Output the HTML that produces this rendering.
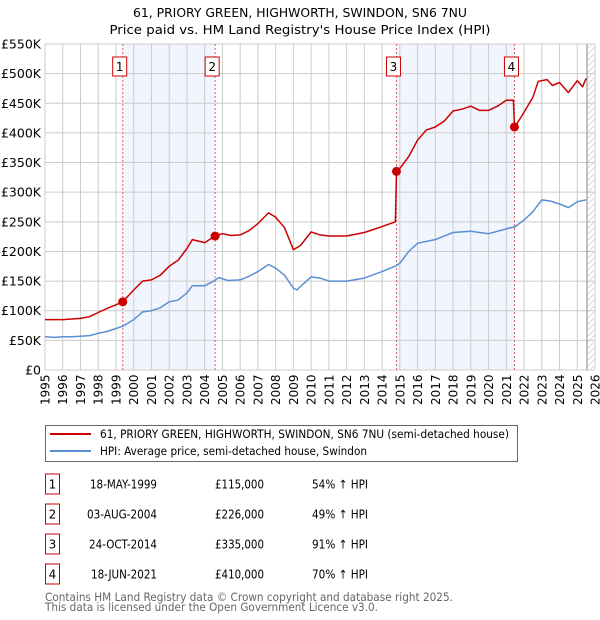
<!DOCTYPE html>
<html><head><meta charset="utf-8">
<style>
body{margin:0;background:#fff;font-family:"Liberation Sans","DejaVu Sans",sans-serif;}
#wrap{position:relative;width:600px;height:620px;overflow:hidden;}
</style></head>
<body>
<div id="wrap">
<svg id="chart" width="600" height="620" style="position:absolute;left:0;top:0"></svg>
</div>
<script>
const yearTicks=[1995,1996,1997,1998,1999,2000,2001,2002,2003,2004,2005,2006,2007,2008,2009,2010,2011,2012,2013,2014,2015,2016,2017,2018,2019,2020,2021,2022,2023,2024,2025,2026];
const valueTicks=[0,50000,100000,150000,200000,250000,300000,350000,400000,450000,500000,550000];
const valueTickLabels=["£0","£50K","£100K","£150K","£200K","£250K","£300K","£350K","£400K","£450K","£500K","£550K"];
const hpiDates=[1995,1995.5,1996,1996.5,1997,1997.5,1998,1998.5,1999,1999.4,2000,2000.5,2001,2001.5,2002,2002.5,2003,2003.3,2004,2004.5,2004.8,2005.3,2006,2006.5,2007,2007.6,2008,2008.5,2009,2009.2,2009.4,2010,2010.5,2011,2012,2013,2014,2014.8,2015,2015.5,2016,2017,2018,2019,2020,2021,2021.5,2022,2022.5,2023,2023.5,2024,2024.5,2025,2025.5];
const hpiValues=[56000,55000,56000,56000,57000,58000,62000,65000,70000,74000,85000,98000,100000,105000,115000,118000,130000,142000,142000,150000,156000,151000,152000,158000,166000,178000,172000,160000,138000,135000,141000,157000,155000,150000,150000,155000,166000,176000,180000,200000,214000,220000,232000,234000,230000,238000,242000,253000,267000,287000,285000,280000,274000,284000,287000];
const priceDates=[1995,1995.5,1996,1996.5,1997,1997.5,1998,1998.5,1999,1999.38,2000,2000.5,2001,2001.5,2002,2002.5,2003,2003.3,2004,2004.59,2005,2005.5,2006,2006.5,2007,2007.6,2008,2008.5,2009,2009.4,2010,2010.5,2011,2012,2013,2014,2014.75,2014.81,2015,2015.5,2016,2016.5,2017,2017.5,2018,2018.5,2019,2019.5,2020,2020.5,2021,2021.4,2021.46,2021.8,2022,2022.5,2022.8,2023.3,2023.6,2024,2024.5,2025,2025.3,2025.5];
const priceValues=[85000,85000,85000,86000,87000,90000,97000,104000,110000,115000,135000,150000,152000,160000,175000,185000,205000,220000,215000,226000,230000,227000,228000,235000,247000,265000,258000,240000,203000,210000,233000,228000,226000,226000,232000,242000,250000,335000,340000,360000,388000,405000,410000,420000,437000,440000,445000,438000,438000,445000,455000,455000,410000,425000,435000,460000,487000,490000,480000,485000,468000,488000,478000,492000];
const saleLabels=["1","2","3","4"];
const saleDates=[1999.38,2004.59,2014.81,2021.46];
const saleValues=[115000,226000,335000,410000];
const saleDateText=["18-MAY-1999","03-AUG-2004","24-OCT-2014","18-JUN-2021"];
const salePriceText=["£115,000","£226,000","£335,000","£410,000"];
const saleHpiText=["54% ↑ HPI","49% ↑ HPI","91% ↑ HPI","70% ↑ HPI"];

const X0=45,X1=595,Y0=370,Y1=44;
const xs=y=>X0+(y-1995)/(2026-1995)*(X1-X0);
const ys=v=>Y0-v/550000*(Y0-Y1);
const svg=document.getElementById('chart');
const NS='http://www.w3.org/2000/svg';
function mk(tag,attrs,parent){const e=document.createElementNS(NS,tag);for(const k in attrs)e.setAttribute(k,attrs[k]);(parent||svg).appendChild(e);return e;}

for(let i=0;i<4;i+=2){
  const r=mk('rect',{x:xs(saleDates[i]),y:Y1,width:xs(saleDates[i+1])-xs(saleDates[i]),height:Y0-Y1,fill:'#eef3fc',opacity:0.8});
  
  
}
const defs=mk('defs',{});
const pat=mk('pattern',{id:'hatch',width:6,height:6,patternUnits:'userSpaceOnUse'},defs);
mk('line',{x1:0,y1:6,x2:6,y2:0,stroke:'#ccc','stroke-width':0.7},pat);
const hx=xs(2025.55);
const hr=mk('rect',{x:hx,y:Y1,width:X1-hx,height:Y0-Y1,fill:'url(#hatch)'});


yearTicks.forEach(y=>{
  const l=mk('line',{x1:xs(y),x2:xs(y),y1:Y1,y2:Y0,stroke:'#cccccc','stroke-width':1});
  
  
  const t=mk('text',{x:0,y:0,transform:`translate(${xs(y)+4.5},405) rotate(-90)`,'font-size':12,fill:'#000','font-family':'DejaVu Sans, sans-serif'});
  t.textContent=y;
  
  
});
valueTicks.forEach((v,i)=>{
  const l=mk('line',{x1:X0,x2:X1,y1:ys(v),y2:ys(v),stroke:'#cccccc','stroke-width':1});
  
  
  const t=mk('text',{x:41,y:ys(v)+4.5,'text-anchor':'end','font-size':12.5,fill:'#000','font-family':'DejaVu Sans, sans-serif'});
  t.textContent=valueTickLabels[i];
  
  
});
const vl=mk('line',{x1:hx,x2:hx,y1:Y1,y2:Y0,stroke:'#888','stroke-width':1});


saleDates.forEach((d,i)=>{
  const l=mk('line',{x1:xs(d),x2:xs(d),y1:Y1,y2:Y0,stroke:'#e06060','stroke-width':1,'stroke-dasharray':'2,2'});
  
  
  const b=mk('rect',{x:xs(d)-10,y:57,width:14,height:19,fill:'#fff',stroke:'#cc0000','stroke-width':1});
  
  
  const t=mk('text',{x:xs(d)-3,y:71,'text-anchor':'middle','font-size':12,fill:'#000','font-family':'DejaVu Sans, sans-serif'});
  t.textContent=saleLabels[i];
  
  
});
function path(dates,vals,col,name){
  const p=mk('path',{d:dates.map((d,i)=>(i?'L':'M')+xs(d).toFixed(1)+','+ys(vals[i]).toFixed(1)).join(''),fill:'none',stroke:col,'stroke-width':1.5,'stroke-linejoin':'round'});
  
  
}
path(hpiDates,hpiValues,'#5b8fd4','hpi-line');
path(priceDates,priceValues,'#cc0000','price-paid-line');
saleDates.forEach((d,i)=>{
  const c=mk('circle',{cx:xs(d),cy:ys(saleValues[i]),r:4.5,fill:'#cc0000'});
  
  
});
function txt(x,y,s,size,len,anchor,fill,name){
  const a={x:x,y:y,'font-size':size,fill:fill||'#000','font-family':'DejaVu Sans, sans-serif','text-anchor':anchor||'start'};
  if(len){a.textLength=len;a.lengthAdjust='spacingAndGlyphs';}
  const t=mk('text',a);
  t.textContent=s;
  
  
}
txt(300,17,'61, PRIORY GREEN, HIGHWORTH, SWINDON, SN6 7NU',12.5,334,'middle','#000','chart-title');
txt(300,34,"Price paid vs. HM Land Registry's House Price Index (HPI)",12.5,381,'middle','#000','chart-subtitle');
const lg=mk('rect',{x:45.5,y:425.5,width:472,height:36,fill:'#fff',stroke:'#666','stroke-width':1});


[['#cc0000','61, PRIORY GREEN, HIGHWORTH, SWINDON, SN6 7NU (semi-detached house)',434,'legend-entry-price',409],['#5b8fd4','HPI: Average price, semi-detached house, Swindon',451,'legend-entry-hpi',267]].forEach(a=>{
  const l=mk('line',{x1:50,x2:91,y1:a[2],y2:a[2],stroke:a[0],'stroke-width':2});
  
  
  txt(100,a[2]+4,a[1],11.5,a[4],'start','#000',a[3]);
});
const dateLen=[67,70,68,66];
saleLabels.forEach((s,i)=>{
  const cy=484+i*30;
  const b=mk('rect',{x:45.5,y:cy-10,width:14,height:20,fill:'#fff',stroke:'#cc0000','stroke-width':1});
  
  
  txt(52.5,cy+4.5,s,12,null,'middle','#000','table-number');
  txt(157,cy+4.5,saleDateText[i],12,dateLen[i],'end','#000','table-date');
  txt(264,cy+4.5,salePriceText[i],12,49,'end','#000','table-price');
  txt(312,cy+4.5,saleHpiText[i],12,56,'start','#000','table-hpi');
});
txt(45,601,'Contains HM Land Registry data © Crown copyright and database right 2025.',11.5,408,'start','#666','footer-note');
txt(45,611,'This data is licensed under the Open Government Licence v3.0.',11.5,333,'start','#666','footer-note');
</script>
</body></html>
